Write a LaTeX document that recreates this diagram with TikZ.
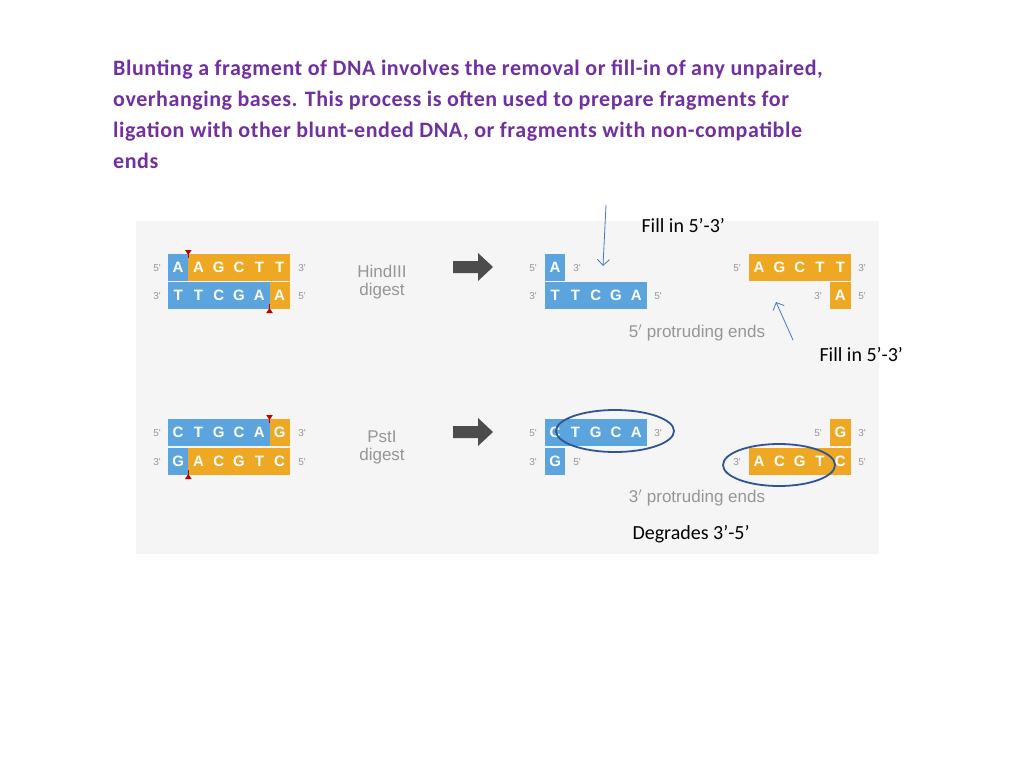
\documentclass[tikz,border=0pt]{standalone}
\usepackage{fontspec}
\setmainfont{Carlito}
\newfontfamily\figfont{Liberation Sans}
\usetikzlibrary{arrows.meta,shapes.geometric}
\definecolor{titlepurple}{RGB}{112,48,160}
\definecolor{baseblue}{RGB}{92,164,222}
\definecolor{baseorange}{RGB}{238,168,36}
\definecolor{panelgray}{RGB}{245,245,245}
\definecolor{endgray}{RGB}{150,150,150}
\definecolor{ringblue}{RGB}{47,85,151}
\definecolor{pointerblue}{RGB}{70,120,190}
\newcommand{\strand}[4]{% x0, y, color, letters
  \foreach \b [count=\i from 0] in {#4}
    \node[basecell,fill=#3] at ({#1+20.3*\i+10.15},#2) {\b};}
\tikzset{
  basecell/.style={minimum width=20.3pt,minimum height=27pt,inner sep=0pt,
    text=white,font=\figfont\bfseries\fontsize{15}{15}\selectfont},
  endlabel/.style={text=endgray,font=\figfont\fontsize{10}{10}\selectfont},
  steplabel/.style={text=endgray,font=\figfont\fontsize{17}{18}\selectfont,align=center},
  notelabel/.style={anchor=west,font=\fontsize{20}{22}\selectfont},
  cutmark/.style={red!75!black,line width=1pt},
  ring/.style={draw=ringblue,line width=1.8pt},
  pointer/.style={pointerblue,-{Straight Barb[length=6pt]},line width=0.8pt}
}
\begin{document}
\begin{tikzpicture}[x=1pt,y=-1pt]
\useasboundingbox (0,0) rectangle (1024,768);
% title
\node[anchor=north west,align=left,text=titlepurple,inner sep=0pt,
  font=\bfseries\fontsize{22}{31}\selectfont\addfontfeature{LetterSpace=2.5}] (title) at (113,60)
  {Blunting a fragment of DNA involves the removal or fill-in of any unpaired,\\
   overhanging bases. This process is often used to prepare fragments for\\
   ligation with other blunt-ended DNA, or fragments with non-compatible\\
   ends};
\fill[panelgray] (136,221) rectangle (879,554);
% HindIII
\strand{168}{267}{baseblue}{A}
\strand{188.3}{267}{baseorange}{A,G,C,T,T}
\strand{168}{295}{baseblue}{T,T,C,G,A}
\strand{269.5}{295}{baseorange}{A}
\draw[cutmark] (188.3,252)--(188.3,258); \fill[red!75!black] (185,250)--(191.6,250)--(188.3,255)--cycle;
\draw[cutmark] (269.5,304)--(269.5,310); \fill[red!75!black] (266.2,313)--(272.8,313)--(269.5,308)--cycle;
\node[endlabel] at (157,268) {5'}; \node[endlabel] at (157,296) {3'};
\node[endlabel] at (302,268) {3'}; \node[endlabel] at (302,296) {5'};
\node[steplabel] (hind) at (382,282) {HindIII\\digest};
\fill[black!70] (453,261)--(478,261)--(478,253)--(493,267)--(478,281)--(478,273)--(453,273)--cycle;
\strand{545}{267}{baseblue}{A}
\strand{545}{295}{baseblue}{T,T,C,G,A}
\node[endlabel] at (533,268) {5'}; \node[endlabel] at (533,296) {3'};
\node[endlabel] at (577,268) {3'}; \node[endlabel] at (658,296) {5'};
\strand{749}{267}{baseorange}{A,G,C,T,T}
\strand{830.2}{295}{baseorange}{A}
\node[endlabel] at (737,268) {5'}; \node[endlabel] at (818,296) {3'};
\node[endlabel] at (862,268) {3'}; \node[endlabel] at (862,296) {5'};
\node[steplabel] (five) at (697,333) {5$'$ protruding ends};
% PstI
\strand{168}{432}{baseblue}{C,T,G,C,A}
\strand{269.5}{432}{baseorange}{G}
\strand{168}{461}{baseblue}{G}
\strand{188.3}{461}{baseorange}{A,C,G,T,C}
\draw[cutmark] (269.5,417)--(269.5,423); \fill[red!75!black] (266.2,415)--(272.8,415)--(269.5,420)--cycle;
\draw[cutmark] (188.3,470)--(188.3,476); \fill[red!75!black] (185,479)--(191.6,479)--(188.3,474)--cycle;
\node[endlabel] at (157,433) {5'}; \node[endlabel] at (157,462) {3'};
\node[endlabel] at (302,433) {3'}; \node[endlabel] at (302,462) {5'};
\node[steplabel] (pst) at (382,447) {PstI\\digest};
\fill[black!70] (453,426)--(478,426)--(478,418)--(493,432)--(478,446)--(478,438)--(453,438)--cycle;
\strand{545}{432}{baseblue}{C,T,G,C,A}
\strand{545}{461}{baseblue}{G}
\node[endlabel] at (533,433) {5'}; \node[endlabel] at (533,462) {3'};
\node[endlabel] at (658,433) {3'}; \node[endlabel] at (577,462) {5'};
\strand{830.2}{432}{baseorange}{G}
\strand{749}{461}{baseorange}{A,C,G,T,C}
\node[endlabel] at (818,433) {5'}; \node[endlabel] at (737,462) {3'};
\node[endlabel] at (862,433) {3'}; \node[endlabel] at (862,462) {5'};
\node[steplabel] (three) at (697,498) {3$'$ protruding ends};
\node[ring,ellipse,minimum width=118pt,minimum height=42pt] (ringl) at (615,431) {};
\node[ring,ellipse,minimum width=112pt,minimum height=42pt] (ringr) at (779,465) {};
% notes
\node[notelabel] (fillA) at (638,226) {Fill in 5’-3’};
\node[notelabel] (fillB) at (816,355) {Fill in 5’-3’};
\node[notelabel] (degr) at (629,534) {Degrades 3’-5’};
\coordinate (tipA) at (603,266);
\coordinate (tipB) at (776,302);
\draw[pointer] (606,205) -- (tipA);
\draw[pointer] (793,340) -- (tipB);
\end{tikzpicture}
\end{document}
